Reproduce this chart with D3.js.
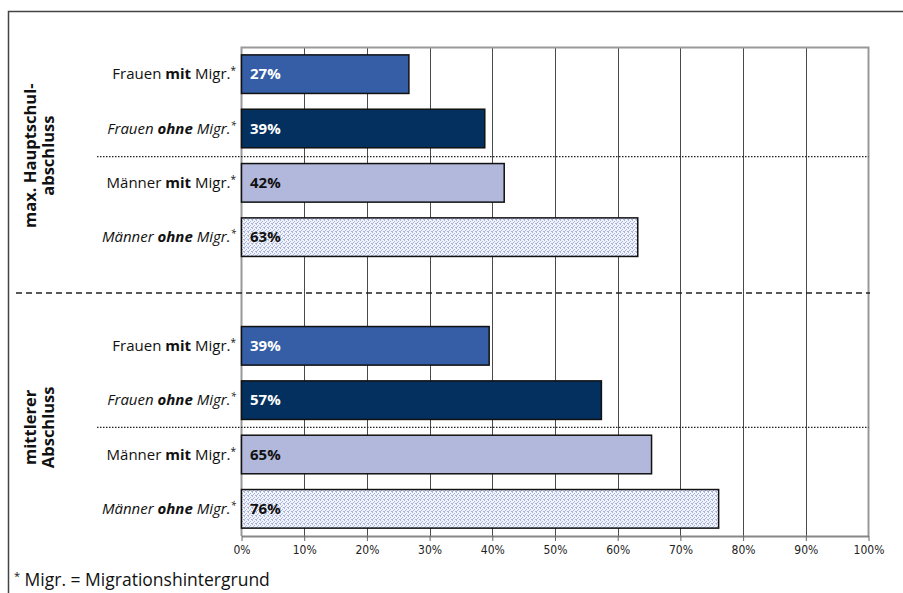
<!DOCTYPE html>
<html><head><meta charset="utf-8">
<script src="https://cdn.jsdelivr.net/npm/d3@7"></script>
<style>body{margin:0;background:#fff}svg{display:block}</style>
</head><body>
<svg id="c" width="903" height="593"></svg>
<script>
const groups = [["max. Hauptschul-", "abschluss"], ["mittlerer", "Abschluss"]];
const subgroupLead = ["Frauen", "Frauen", "Männer", "Männer"];
const subgroupKey = ["mit", "ohne", "mit", "ohne"];
const subgroupItalic = [false, true, false, true];
const valuesHaupt = [26.7, 38.8, 41.9, 63.2];
const valuesMittel = [39.5, 57.4, 65.4, 76.1];
const valueLabels = [["27%", "39%", "42%", "63%"], ["39%", "57%", "65%", "76%"]];
const xTicks = [0, 10, 20, 30, 40, 50, 60, 70, 80, 90, 100];
const footnote = "Migr. = Migrationshintergrund";

const fills = ["#355ea6", "#03305f", "#b1b8db", "url(#dots)"];
const textFills = ["#fff", "#fff", "#111", "#111"];

const svg = d3.select("#c");
const font = "'Open Sans', 'Noto Sans', sans-serif";

// pattern
const defs = svg.append("defs");
const pat = defs.append("pattern").attr("id", "dots").attr("width", 4).attr("height", 4).attr("patternUnits", "userSpaceOnUse");
pat.append("rect").attr("width", 4).attr("height", 4).attr("fill", "#f2f4fb");
[[0,0],[2,1],[1,2],[3,3],[0,3]].forEach(([a,b]) => pat.append("rect").attr("x", a).attr("y", b).attr("width", 1).attr("height", 1).attr("fill", "#aab3da"));

// data rows
const rows = [];
[valuesHaupt, valuesMittel].forEach((vals, g) => {
  vals.forEach((v, i) => rows.push({key: `g${g}-${i}`, g, i, v, label: valueLabels[g][i]}));
});
const slots = ["g0-0","g0-1","g0-2","g0-3","gap","g1-0","g1-1","g1-2","g1-3"];

const x = d3.scaleLinear().domain([0, 100]).range([241.5, 868.5]);
const y = d3.scaleBand().domain(slots).range([47, 536]).paddingInner(0.29).paddingOuter(0.145);
const step = y.step();

// outer frame
svg.append("path").attr("d", "M8.5,593 V11.5 H903").attr("fill", "none").attr("stroke", "#444").attr("stroke-width", 1.5);

// gridlines
svg.append("g").selectAll("line").data(xTicks.slice(1, -1)).join("line")
  .attr("x1", d => Math.round(x(d)) + 0.5).attr("x2", d => Math.round(x(d)) + 0.5)
  .attr("y1", 47).attr("y2", 536).attr("stroke", "#4a4a4a").attr("stroke-width", 1);

// plot frame top/right/left
svg.append("path").attr("d", `M${x(0)},536 V47.5 H${x(100)} V536`).attr("fill", "none").attr("stroke", "#999").attr("stroke-width", 2);

// separators
const dotY = [47 + 2*step + 1, 47 + 7*step];
svg.append("g").selectAll("line").data(dotY).join("line")
  .attr("x1", 97).attr("x2", x(100)).attr("y1", d => d).attr("y2", d => d)
  .attr("stroke", "#222").attr("stroke-width", 1.2).attr("stroke-dasharray", "1.5,1.5");
const dashY = 47 + 4.5 * step + 1.5;
svg.append("line").attr("x1", 16).attr("x2", 870).attr("y1", dashY).attr("y2", dashY)
  .attr("stroke", "#222").attr("stroke-width", 1.5).attr("stroke-dasharray", "6,4");

// bars
svg.append("g").selectAll("rect").data(rows).join("rect")
  .attr("x", x(0)).attr("y", d => y(d.key))
  .attr("width", d => x(d.v) - x(0)).attr("height", y.bandwidth())
  .attr("fill", d => fills[d.i]).attr("stroke", "#111").attr("stroke-width", 1.5);

// value labels
svg.append("g").selectAll("text").data(rows).join("text")
  .attr("x", 250).attr("y", d => y(d.key) + y.bandwidth()/2 + 5)
  .attr("font-family", font).attr("font-weight", "bold").attr("font-size", 15)
  .attr("fill", d => textFills[d.i]).text(d => d.label);

// category labels
const cl = svg.append("g").selectAll("text").data(rows).join("text")
  .attr("x", 236).attr("y", d => y(d.key) + y.bandwidth()/2 + 5)
  .attr("text-anchor", "end").attr("font-family", font).attr("font-size", 15).attr("fill", "#111")
  .attr("font-style", d => subgroupItalic[d.i] ? "italic" : "normal");
cl.append("tspan").text(d => subgroupLead[d.i] + " ");
cl.append("tspan").attr("font-weight", "bold").text(d => subgroupKey[d.i]);
cl.append("tspan").text(" Migr.");
cl.append("tspan").attr("font-size", 10).attr("dy", -5).text("*");

// group labels
groups.forEach((lines, g) => {
  const cy = (y(`g${g}-0`) + y(`g${g}-3`) + y.bandwidth()) / 2;
  const t = svg.append("text").attr("transform", `translate(36,${cy}) rotate(-90)`)
    .attr("text-anchor", "middle").attr("font-family", font).attr("font-weight", "bold").attr("font-size", 16.5).attr("fill", "#111");
  lines.forEach((l, k) => t.append("tspan").attr("x", 0).attr("dy", k === 0 ? 0 : 17.5).text(l));
});

// x axis
const ax = svg.append("g").attr("transform", "translate(0,536)")
  .call(d3.axisBottom(x).tickValues(xTicks).tickFormat(d => d + "%").tickSize(5).tickSizeOuter(0));
ax.select(".domain").attr("stroke", "#888").attr("stroke-width", 2);
ax.selectAll(".tick line").attr("stroke", "#666");
ax.selectAll(".tick text").attr("font-family", "'DejaVu Sans Condensed', sans-serif").attr("font-size", 12).attr("fill", "#222").attr("dy", "0.85em");

// footnote
const fn = svg.append("text").attr("x", 14).attr("y", 586).attr("font-family", font).attr("font-size", 17.5).attr("fill", "#111");
fn.append("tspan").attr("font-size", 11).attr("dy", -6).text("*");
fn.append("tspan").attr("dy", 6).text(" " + footnote);
</script>
</body></html>
